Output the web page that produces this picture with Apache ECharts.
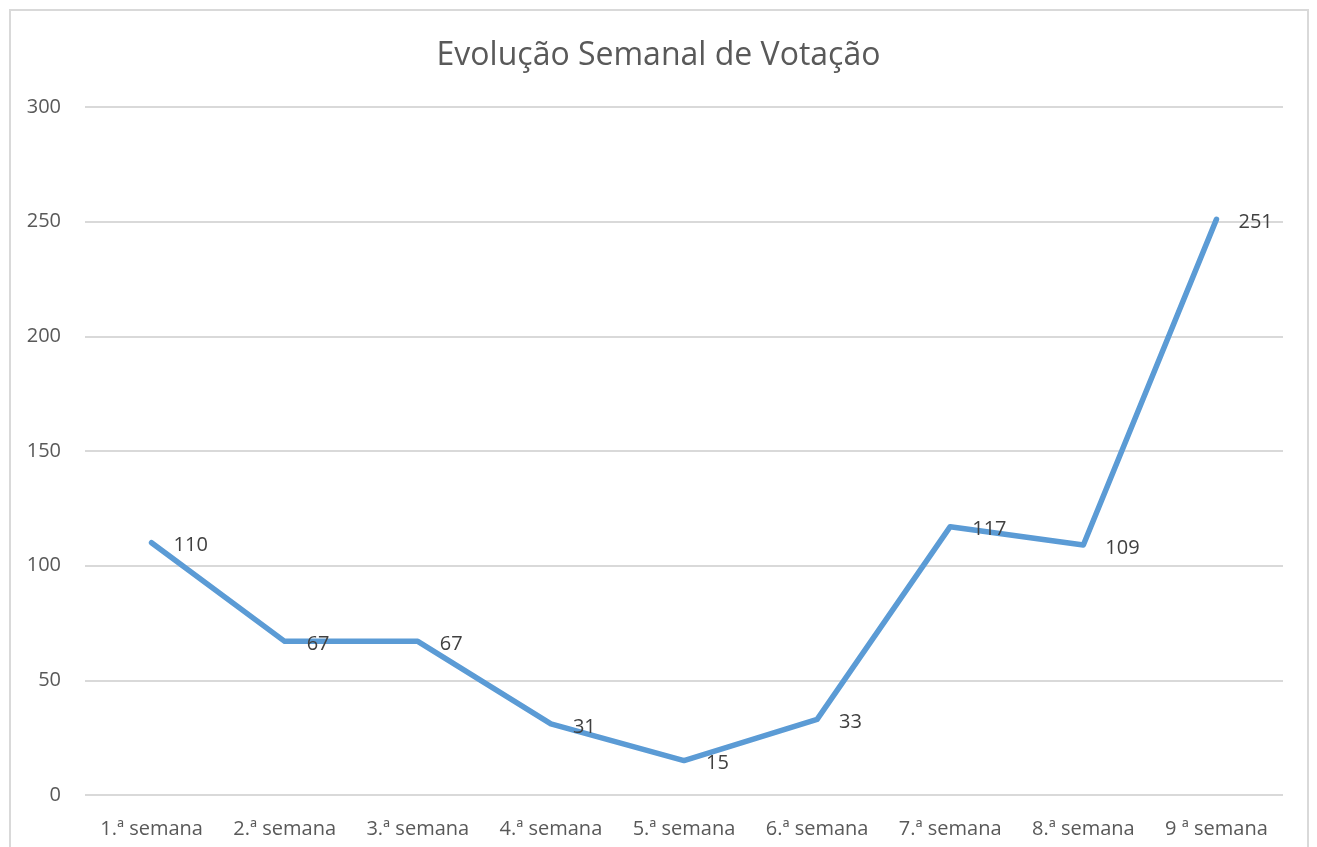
<!DOCTYPE html>
<html>
<head>
<meta charset="utf-8">
<script src="https://cdn.jsdelivr.net/npm/echarts@6/dist/echarts.min.js"></script>
<style>
  html, body { margin: 0; padding: 0; background: #fff; }
  #frame { position: absolute; left: 9px; top: 9px; width: 1300px; height: 850px;
           border: 2px solid #d9d9d9; box-sizing: border-box; }
  #chart { width: 1317px; height: 847px; }
</style>
</head>
<body>
<div id="frame"></div>
<div id="chart"></div>
<script>
// semanas e votos
var weeks = ['1.ª semana', '2.ª semana', '3.ª semana', '4.ª semana', '5.ª semana',
             '6.ª semana', '7.ª semana', '8.ª semana', '9 ª semana'];
var votes = [110, 67, 67, 31, 15, 33, 117, 109, 251];

var font = 'Open Sans';
var chart = echarts.init(document.getElementById('chart'));

var option = {
    animation: false,
    title: {
        text: 'Evolução Semanal de Votação',
        left: 'center',
        top: 35,
        textStyle: { fontFamily: font, fontSize: 32, fontWeight: 'normal', color: '#595959' }
    },
    grid: { left: 85, right: 34, top: 107, bottom: 52, containLabel: false },
    xAxis: {
        type: 'category',
        data: weeks,
        boundaryGap: true,
        axisLine: { show: false },
        axisTick: { show: false },
        axisLabel: { fontFamily: font, fontSize: 20, color: '#595959', margin: 24, interval: 0 }
    },
    yAxis: {
        type: 'value',
        min: 0,
        max: 300,
        interval: 50,
        axisLine: { show: false },
        axisTick: { show: false },
        axisLabel: { fontFamily: font, fontSize: 20, color: '#595959', margin: 24 },
        splitLine: { lineStyle: { color: '#d9d9d9', width: 2 } }
    },
    series: [{
        type: 'line',
        data: votes,
        symbol: 'circle',
        symbolSize: 0,
        lineStyle: { color: '#5b9bd5', width: 5.5, cap: 'round', join: 'round' },
        itemStyle: { color: '#5b9bd5' },
        label: {
            show: true,
            position: 'right',
            distance: 22,
            offset: [0, 3],
            fontFamily: font,
            fontSize: 20,
            color: '#404040'
        }
    }]
};
chart.setOption(option);
</script>
</body>
</html>
